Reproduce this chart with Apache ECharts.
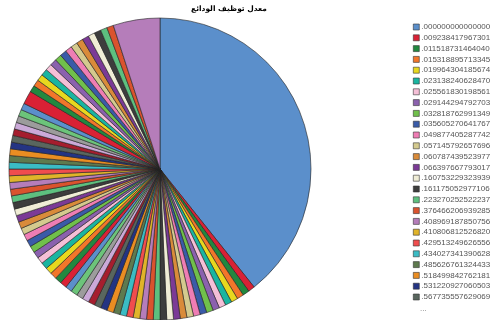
<!DOCTYPE html>
<html><head><meta charset="utf-8">
<script src="https://cdn.jsdelivr.net/npm/echarts@6/dist/echarts.min.js"></script>
<style>html,body{margin:0;padding:0;background:#fff}#c{width:494px;height:320px}</style>
</head><body><div id="c"></div>
<script>
const chartTitle = "معدل توظيف الودائع";
const categories = [
".000000000000000",".009238417967301",".011518731464040",".015318895713345",".019964304185674",
".023138240628470",".025561830198561",".029144294792703",".032818762991349",".035605270641767",
".049877405287742",".057145792657696",".060787439523977",".066397667793017",".160753229323939",
".161175052977106",".223270252522237",".376466206939285",".408969187850756",".410806812526820",
".429513249626556",".434027341390628",".485626761324433",".518499842762181",".531220927060503",
".567735557629069",".583340207925831",".601227419880345",".612093552784320",".625718843095216",
".639104452271580",".648812390654177",".657301298412066",".668945310278453",".679012587436921",
".684523901127745",".695870341265083",".703418825641907",".712965047832156",".720457813960284",
".731804629517362",".742651980326714",".750093821467538",".758842317609925",".764201958374613",
".771938460215879",".780625194738052",".789316502847160",".795482013659274",".803167925408631",
".811740362958427",".820394571806243",".829051738462915",".836782940153682",".845109327684501",
".852736094128573",".860395271840619",".868921450376812",".875603819247096",".883147062953820",
".890572836419045",".897340215687931",".905816427390162",".913275804621938",".920641738095214",
".928304195762841",".934917062583427",".942058371946203",".949612830457186",".957183649201375",
".963740258916043",".970316584902761",".976852039147628",".983490127654308",".989073415286940",
".994625801739152","1.000000000000000","1.012837460592143","1.054983217406635"
];
const values = [
55,
1,1,1,1,1,1,1,1,1,1, 1,1,1,1,1,1,1,1,1,1, 1,1,1,1,1,1,1,1,1,
1,1,1,1,1,1,1,1,1,1, 1,1,1,1,1,1,1,1,1,1, 1,1,1,1,1,1,1,1,1,1,
1,2,
1,1,1,1,1,1,1,1,1,1, 1,1,1,1,1,1,
7
];
const legendShown = categories.slice(0, 26);
const palette = [
"#5B8FCB","#D92135","#22883F","#F2762A","#E8D81E","#1AB5A0","#F5BFD7","#8B61AE","#70C04B","#3A5BA8",
"#EF7DB4","#D4CA8E","#D98B3A","#7B3A96","#F0EDD6","#3D3D3D","#5DC07F","#DA532E","#B57DBA","#E0B42A",
"#F04D4E","#3BBCC4","#5E7A4E","#EA8D22","#243483","#59665E","#A51E2E","#CBA9D8","#9C9C9C","#6CC47A"
];
const legendFont = "'Liberation Sans', sans-serif";
const chart = echarts.init(document.getElementById('c'), null, {renderer:'canvas'});
chart.setOption({
  animation: false,
  color: palette,
  title: {
    text: chartTitle, left: 229, top: 5, textAlign: 'center', padding: 0,
    textStyle: {fontFamily: 'DejaVu Sans', fontSize: 7.5, fontWeight: 'bold', color: '#000'}
  },
  legend: {
    orient: 'vertical', left: 413, top: 23, padding: 0,
    data: legendShown,
    itemWidth: 6, itemHeight: 6, itemGap: 2.8, icon: 'rect',
    itemStyle: {borderColor: '#333', borderWidth: 0.6},
    textStyle: {fontFamily: legendFont, fontSize: 8, color: '#555', lineHeight: 8, padding: [0,0,0,-3]},
    selectedMode: false
  },
  graphic: [{type: 'text', left: 420, top: 305, style: {text: '...', fontFamily: legendFont, fontSize: 8, fill: '#777'}}],
  series: [{
    type: 'pie',
    center: [160, 169],
    radius: 151,
    startAngle: 90,
    clockwise: true,
    avoidLabelOverlap: false,
    label: {show: false},
    labelLine: {show: false},
    emphasis: {disabled: true},
    itemStyle: {borderColor: '#222', borderWidth: 0.6},
    data: categories.map((n, i) => ({name: n, value: values[i]}))
  }]
});
</script></body></html>
